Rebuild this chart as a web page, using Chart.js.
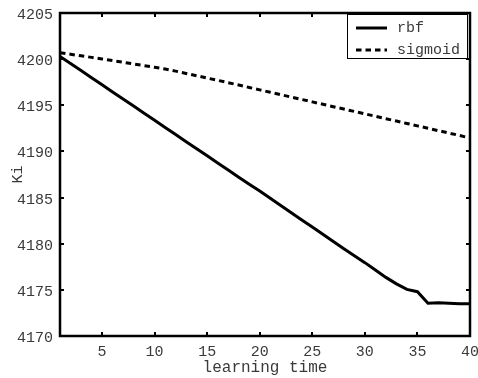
<!DOCTYPE html>
<html>
<head>
<meta charset="utf-8">
<script src="https://cdn.jsdelivr.net/npm/chart.js@4"></script>
<style>
  html, body { margin: 0; padding: 0; background: #fff; }
  #wrap { width: 478px; height: 378px; }
</style>
</head>
<body>
<div id="wrap"><canvas id="c" width="478" height="378"></canvas></div>
<script>
// Learning-time index (epochs 1..40)
const epochs = Array.from({ length: 40 }, (_, i) => i + 1);

// Ki value per epoch, RBF kernel
const rbfValues = [
  4200.30, 4199.53, 4198.76, 4197.99, 4197.22, 4196.45, 4195.68, 4194.91, 4194.14, 4193.37,
  4192.60, 4191.83, 4191.06, 4190.29, 4189.52, 4188.75, 4187.98, 4187.21, 4186.44, 4185.70,
  4184.92, 4184.14, 4183.36, 4182.58, 4181.80, 4181.02, 4180.24, 4179.46, 4178.70, 4177.95,
  4177.15, 4176.35, 4175.65, 4175.05, 4174.80, 4173.55, 4173.60, 4173.55, 4173.50, 4173.50
];

// Ki value per epoch, sigmoid kernel
const sigmoidValues = [
  4200.70, 4200.53, 4200.36, 4200.19, 4200.02, 4199.84, 4199.66, 4199.48, 4199.30, 4199.12,
  4198.93, 4198.70, 4198.45, 4198.20, 4197.95, 4197.70, 4197.45, 4197.20, 4196.93, 4196.67,
  4196.41, 4196.15, 4195.89, 4195.63, 4195.37, 4195.11, 4194.85, 4194.59, 4194.33, 4194.07,
  4193.81, 4193.55, 4193.29, 4193.03, 4192.77, 4192.51, 4192.25, 4191.99, 4191.73, 4191.45
];

const seriesNames = ['rbf', 'sigmoid'];
const xTickValues = [5, 10, 15, 20, 25, 30, 35, 40];
const yTickValues = [4170, 4175, 4180, 4185, 4190, 4195, 4200, 4205];

const MONO = '"Courier New", "Liberation Mono", monospace';
const TEXT = '#3a3a3a';

// Box around the plot with short inward ticks on all four sides
const framePlugin = {
  id: 'frame',
  afterDatasetsDraw(chart) {
    const { ctx, chartArea: a, scales } = chart;
    const len = 4;
    ctx.save();
    ctx.strokeStyle = '#000';
    ctx.lineWidth = 2;
    ctx.beginPath();
    scales.x.ticks.forEach(t => {
      const px = Math.round(scales.x.getPixelForValue(t.value));
      ctx.moveTo(px, a.bottom); ctx.lineTo(px, a.bottom - len);
      ctx.moveTo(px, a.top); ctx.lineTo(px, a.top + len);
    });
    scales.y.ticks.forEach(t => {
      const py = Math.round(scales.y.getPixelForValue(t.value));
      ctx.moveTo(a.left, py); ctx.lineTo(a.left + len, py);
      ctx.moveTo(a.right, py); ctx.lineTo(a.right - len, py);
    });
    ctx.stroke();
    ctx.lineWidth = 2.5;
    ctx.strokeRect(a.left, a.top, a.right - a.left, a.bottom - a.top);
    ctx.restore();
  }
};

// Boxed legend in the upper-right corner of the plot
const boxLegendPlugin = {
  id: 'boxLegend',
  afterDraw(chart) {
    const { ctx, chartArea: a } = chart;
    const x0 = a.right - 123, y0 = a.top + 1, w = 120, h = 44;
    ctx.save();
    ctx.fillStyle = '#fff';
    ctx.fillRect(x0, y0, w, h);
    ctx.strokeStyle = '#000';
    ctx.lineWidth = 1;
    ctx.strokeRect(x0 + 0.5, y0 + 0.5, w, h);
    chart.data.datasets.forEach((ds, i) => {
      const y = y0 + 14 + i * 22;
      ctx.beginPath();
      ctx.lineWidth = ds.borderWidth;
      ctx.strokeStyle = ds.borderColor;
      ctx.setLineDash(ds.borderDash || []);
      ctx.moveTo(x0 + 9, y);
      ctx.lineTo(x0 + 40, y);
      ctx.stroke();
      ctx.setLineDash([]);
      ctx.fillStyle = TEXT;
      ctx.font = '15px ' + MONO;
      ctx.textBaseline = 'middle';
      ctx.textAlign = 'left';
      ctx.fillText(ds.label, x0 + 50, y);
    });
    ctx.restore();
  }
};

new Chart(document.getElementById('c'), {
  type: 'line',
  data: {
    labels: epochs,
    datasets: [
      {
        label: seriesNames[0],
        data: epochs.map((e, i) => ({ x: e, y: rbfValues[i] })),
        borderColor: '#000',
        borderWidth: 3,
        pointRadius: 0,
        tension: 0,
        fill: false
      },
      {
        label: seriesNames[1],
        data: epochs.map((e, i) => ({ x: e, y: sigmoidValues[i] })),
        borderColor: '#000',
        borderWidth: 3,
        borderDash: [5.5, 4],
        borderCapStyle: 'butt',
        pointRadius: 0,
        tension: 0,
        fill: false
      }
    ]
  },
  options: {
    responsive: false,
    animation: false,
    devicePixelRatio: 1,
    layout: { padding: { top: 13, right: 8, left: 0, bottom: 0 } },
    plugins: { legend: { display: false }, tooltip: { enabled: false } },
    scales: {
      x: {
        type: 'linear',
        min: 1,
        max: 40,
        grid: { display: false, drawTicks: false },
        border: { display: false },
        afterBuildTicks: s => { s.ticks = xTickValues.map(v => ({ value: v })); },
        afterFit: s => {
          s.height = 42;
          s.paddingLeft = 0;
          s.paddingRight = 0;
        },
        ticks: {
          padding: 7,
          maxRotation: 0,
          color: TEXT,
          font: { family: MONO, size: 15 }
        },
        title: {
          display: true,
          text: 'learning time',
          color: TEXT,
          padding: { top: 0, bottom: 1 },
          font: { family: MONO, size: 16 }
        }
      },
      y: {
        type: 'linear',
        min: 4170,
        max: 4205,
        grid: { display: false, drawTicks: false },
        border: { display: false },
        afterBuildTicks: s => { s.ticks = yTickValues.map(v => ({ value: v })); },
        afterFit: s => {
          s.width = 60;
          s.paddingTop = 0;
          s.paddingBottom = 0;
        },
        ticks: {
          padding: 7,
          labelOffset: 2,
          color: TEXT,
          font: { family: MONO, size: 15 },
          callback: v => String(v)
        },
        title: {
          display: true,
          text: 'Ki',
          color: TEXT,
          padding: { top: 9, bottom: 0 },
          font: { family: MONO, size: 15 }
        }
      }
    }
  },
  plugins: [framePlugin, boxLegendPlugin]
});
</script>
</body>
</html>
